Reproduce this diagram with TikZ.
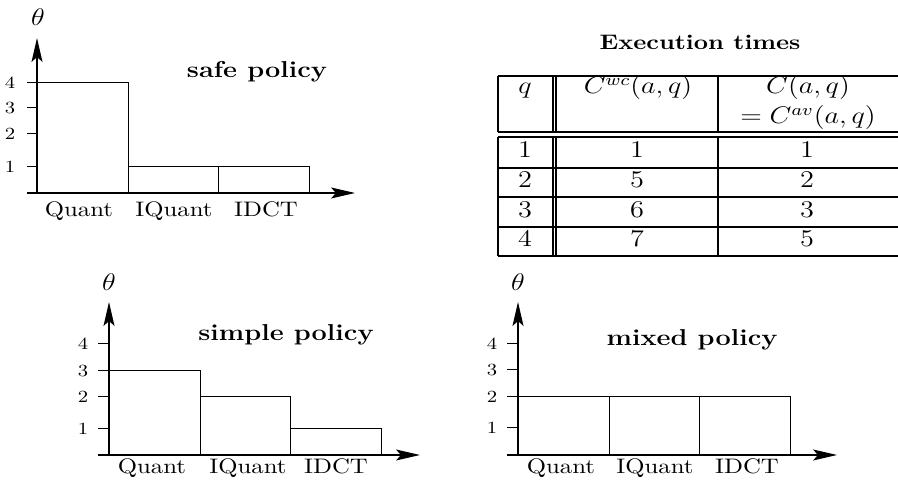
\documentclass[tikz,border=0pt]{standalone}
\usepackage{graphicx}
\usetikzlibrary{arrows.meta}
% text in this figure is set slightly wide
\newcommand\wide[1]{\scalebox{1.18}[1]{#1}}
\begin{document}
\begin{tikzpicture}[x=0.5pt,y=-0.5pt,
  axis/.style={line width=0.6pt,-{Stealth[length=12pt,width=5.5pt,inset=2.5pt]}},
  barbox/.style={draw,line width=0.5pt,minimum width=45.25pt,anchor=south west,inner sep=0pt},
  tickmark/.style={line width=0.5pt},
  ticklbl/.style={font=\fontsize{8.5}{9}\selectfont,inner sep=0pt},
  barlbl/.style={font=\fontsize{10.5}{12}\selectfont,inner sep=0pt},
  charttitle/.style={font=\fontsize{11.5}{14}\selectfont\bfseries,inner sep=0pt},
  thetalbl/.style={font=\fontsize{12}{12}\selectfont,inner sep=0pt},
  tabtxt/.style={font=\fontsize{12}{13}\selectfont,inner sep=0pt},
  rule/.style={line width=0.6pt}]
\useasboundingbox (0,0) rectangle (898,490);
\clip (0,0) rectangle (898,490);

% ---------- safe policy ----------
\begin{scope}[shift={(37,193)}]
  \coordinate (sO) at (0,0);
  \coordinate (sXs) at (-10,0);
  \coordinate (sXe) at (318,0);
  \coordinate (sYe) at (0,-155);
  \node[barbox,minimum height=55pt] (sb1) at (0,0) {};
  \node[barbox,minimum height=13pt] (sb2) at (90.5,0) {};
  \node[barbox,minimum height=13pt] (sb3) at (181,0) {};
  \draw[axis] (sXs) -- (sXe);
  \draw[axis] (sO) -- (sYe);
  \foreach \v/\h in {1/26,2/59,3/85,4/110}{
    \coordinate (st\v) at (0,-\h);
    \draw[tickmark] (st\v) -- ++(-10,0);
    \node[ticklbl] (stl\v) at (-27,-\h) {\wide{\v}};
  }
  \node[barlbl,anchor=base] (sl1) at (42,24) {\wide{Quant}};
  \node[barlbl,anchor=base] (sl2) at (137,24) {\wide{IQuant}};
  \node[barlbl,anchor=base] (sl3) at (229,24) {\wide{IDCT}};
  \node[thetalbl] (sth) at (1,-176) {\wide{$\theta$}};
  \node[charttitle] (stt) at (220,-121) {\wide{safe policy}};
\end{scope}

% ---------- simple policy ----------
\begin{scope}[shift={(109,455)}]
  \coordinate (pO) at (0,0);
  \coordinate (pXs) at (-11,0);
  \coordinate (pXe) at (311,0);
  \coordinate (pYe) at (0,-153);
  \node[barbox,minimum height=42pt] (pb1) at (0,0) {};
  \node[barbox,minimum height=29pt] (pb2) at (90.5,0) {};
  \node[barbox,minimum height=13pt] (pb3) at (181,0) {};
  \draw[axis] (pXs) -- (pXe);
  \draw[axis] (pO) -- (pYe);
  \foreach \v/\h in {1/26,2/58,3/84,4/111}{
    \coordinate (pt\v) at (0,-\h);
    \draw[tickmark] (pt\v) -- ++(-11,0);
    \node[ticklbl] (ptl\v) at (-26,-\h) {\wide{\v}};
  }
  \node[barlbl,anchor=base] (pl1) at (43,19) {\wide{Quant}};
  \node[barlbl,anchor=base] (pl2) at (139,19) {\wide{IQuant}};
  \node[barlbl,anchor=base] (pl3) at (227,19) {\wide{IDCT}};
  \node[thetalbl] (pth) at (0,-173) {\wide{$\theta$}};
  \node[charttitle] (ptt) at (177,-120) {\wide{simple policy}};
\end{scope}

% ---------- mixed policy ----------
\begin{scope}[shift={(518,455)}]
  \coordinate (mO) at (0,0);
  \coordinate (mXs) at (-11,0);
  \coordinate (mXe) at (319,0);
  \coordinate (mYe) at (0,-153);
  \node[barbox,minimum height=29pt] (mb1) at (0,0) {};
  \node[barbox,minimum height=29pt] (mb2) at (90.5,0) {};
  \node[barbox,minimum height=29pt] (mb3) at (181,0) {};
  \draw[axis] (mXs) -- (mXe);
  \draw[axis] (mO) -- (mYe);
  \foreach \v/\h in {1/27,2/58,3/85,4/111}{
    \coordinate (mt\v) at (0,-\h);
    \draw[tickmark] (mt\v) -- ++(-11,0);
    \node[ticklbl] (mtl\v) at (-26,-\h) {\wide{\v}};
  }
  \node[barlbl,anchor=base] (ml1) at (43,19) {\wide{Quant}};
  \node[barlbl,anchor=base] (ml2) at (137,19) {\wide{IQuant}};
  \node[barlbl,anchor=base] (ml3) at (229,19) {\wide{IDCT}};
  \node[thetalbl] (mth) at (0,-173) {\wide{$\theta$}};
  \node[charttitle] (mtt) at (174,-115) {\wide{mixed policy}};
\end{scope}

% ---------- execution time table ----------
\node[font=\fontsize{10.5}{13}\selectfont\bfseries,inner sep=0pt] (tabtitle) at (700,42) {\wide{Execution times}};
% header frame
\draw[rule] (498,76) -- (898,76);
\draw[rule] (498,132) -- (898,132);
\draw[rule] (498,76) -- (498,132);
\draw[rule] (553,76) -- (553,132);
\draw[rule] (556,76) -- (556,132);
\draw[rule] (718,76) -- (718,132);
% body frame
\foreach \yy in {137,168,197,227,256}{\draw[rule] (498,\yy) -- (898,\yy);}
\draw[rule] (498,137) -- (498,256);
\draw[rule] (553,137) -- (553,256);
\draw[rule] (556,137) -- (556,256);
\draw[rule] (718,137) -- (718,256);
% header text
\node[tabtxt,anchor=base] (hq) at (525,94) {\wide{$q$}};
\node[tabtxt,anchor=base] (hwc) at (638,94) {\wide{$C^{wc}(a,q)$}};
\node[tabtxt,anchor=base] (hc) at (808,94) {\wide{$C(a,q)$}};
\node[tabtxt,anchor=base] (hav) at (808,124) {\wide{$=C^{av}(a,q)$}};
% body rows
\foreach \r/\yy/\w/\a in {1/158/1/1,2/188/5/2,3/218/6/3,4/247/7/5}{
  \node[tabtxt,anchor=base] (q\r) at (525,\yy) {\wide{$\r$}};
  \node[tabtxt,anchor=base] (w\r) at (637,\yy) {\wide{$\w$}};
  \node[tabtxt,anchor=base] (a\r) at (807,\yy) {\wide{$\a$}};
}
\end{tikzpicture}
\end{document}
